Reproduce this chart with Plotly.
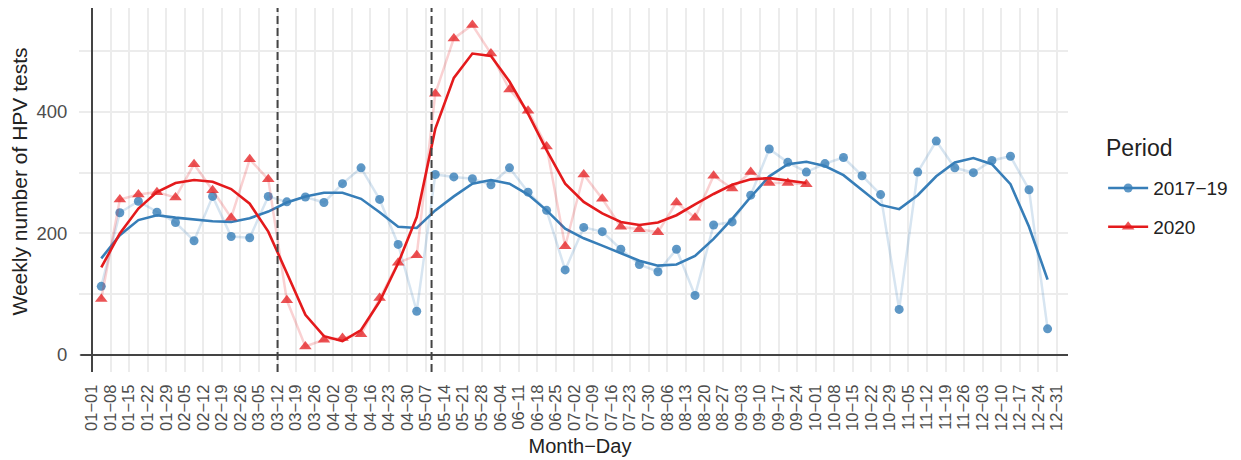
import plotly.graph_objects as go

# ---- data ----
week_labels = ["01-01","01-08","01-15","01-22","01-29","02-05","02-12","02-19","02-26","03-05",
               "03-12","03-19","03-26","04-02","04-09","04-16","04-23","04-30","05-07","05-14",
               "05-21","05-28","06-04","06-11","06-18","06-25","07-02","07-09","07-16","07-23",
               "07-30","08-06","08-13","08-20","08-27","09-03","09-10","09-17","09-24","10-01",
               "10-08","10-15","10-22","10-29","11-05","11-12","11-19","11-26","12-03","12-10",
               "12-17","12-24","12-31"]
tick_text = [s.replace("-", "\u2212") for s in week_labels]

tests_2017_19 = [113, 234, 253, 235, 218, 188, 261, 195, 193, 261,
                 252, 260, 251, 282, 308, 256, 182, 72, 297, 293,
                 290, 280, 308, 268, 238, 140, 210, 203, 174, 149,
                 137, 174, 98, 214, 219, 263, 339, 317, 301, 315,
                 325, 295, 264, 75, 301, 352, 308, 300, 320, 327,
                 272, 43]
smooth_2017_19 = [159, 197, 222, 230, 226, 223, 220, 219, 225, 236,
                  251, 261, 267, 267, 257, 235, 211, 209, 238, 261,
                  282, 288, 282, 264, 238, 208, 192, 180, 167, 155,
                  147, 149, 163, 191, 224, 260, 294, 314, 318, 311,
                  296, 272, 247, 240, 263, 294, 317, 324, 314, 281,
                  211, 124]

tests_2020 = [92, 256, 264, 268, 259, 314, 271, 226, 322, 289,
              90, 14, 25, 28, 34, 94, 152, 164, 430, 521,
              543, 496, 437, 402, 343, 179, 297, 257, 211, 207,
              202, 251, 226, 295, 274, 301, 283, 283, 281]
smooth_2020 = [144, 200, 241, 268, 283, 288, 285, 273, 249, 203,
               135, 66, 31, 23, 41, 88, 151, 227, 372, 456,
               496, 492, 450, 397, 337, 282, 252, 233, 219, 214,
               218, 230, 248, 265, 280, 289, 291, 287, 283]

event_weeks = [10.0, 18.3]   # dashed reference lines (in weeks from 01-01)

periods = ["2017\u221219", "2020"]
colors = {"2017\u221219": "#377EB8", "2020": "#E41A1C"}
faint = {"2017\u221219": "rgba(55,126,184,0.2)", "2020": "rgba(228,26,28,0.2)"}
pts = {"2017\u221219": "rgba(55,126,184,0.8)", "2020": "rgba(228,26,28,0.75)"}
symbols = {"2017\u221219": "circle", "2020": "triangle-up"}
msize = {"2017\u221219": 9, "2020": 11}

series = {"2017\u221219": (tests_2017_19, smooth_2017_19), "2020": (tests_2020, smooth_2020)}

fig = go.Figure()
for p in periods:
    vals, sm = series[p]
    xs = [i + 0.5 for i in range(len(vals))]
    fig.add_trace(go.Scatter(x=xs, y=vals, mode="lines+markers",
                             line=dict(color=faint[p], width=2.5),
                             marker=dict(color=pts[p], size=msize[p], symbol=symbols[p]),
                             showlegend=False, hoverinfo="skip"))
    fig.add_trace(go.Scatter(x=xs, y=sm, mode="lines",
                             line=dict(color=colors[p], width=2.6),
                             showlegend=False))
for k, p in enumerate(periods):
    fig.add_trace(go.Scatter(x=[None], y=[None], mode="lines+markers", name=p,
                             legendgroup=p,
                             line=dict(color=colors[p], width=2.6),
                             marker=dict(color=pts[p], size=msize[p], symbol=symbols[p])))

for xv in event_weeks:
    fig.add_shape(type="line", xref="x", yref="paper", x0=xv, x1=xv, y0=-0.049, y1=1,
                  line=dict(color="#444444", width=2, dash="8px,4px"), layer="above")

# axis lines
fig.add_shape(type="line", xref="paper", yref="paper", x0=0, x1=0, y0=-0.049, y1=1,
              line=dict(color="#444444", width=2))
fig.add_shape(type="line", xref="paper", yref="paper", x0=-0.012, x1=1, y0=0, y1=0,
              line=dict(color="#444444", width=2))

# legend title as annotation
fig.add_annotation(text="Period", xref="paper", yref="paper", x=1.037, y=0.5965,
                   xanchor="left", yanchor="middle", showarrow=False,
                   font=dict(size=23, color="#222222"))

grid = "#ececec"
fig.update_layout(
    width=1233, height=452,
    margin=dict(l=84, r=173, t=0, b=105, autoexpand=False),
    paper_bgcolor="white", plot_bgcolor="white",
    font=dict(family="Liberation Sans, Arial, sans-serif", color="#4d4d4d"),
    xaxis=dict(range=[0, 52.6], tickmode="array", tickvals=list(range(len(week_labels))),
               ticktext=tick_text, tickangle=-90, tickfont=dict(size=16.5, color="#4d4d4d"),
               showgrid=True, gridcolor=grid, gridwidth=2, zeroline=False, automargin=False,
               ticks="outside", ticklen=16, tickcolor=grid, tickwidth=2, ticklabelstandoff=6,
               title=dict(text="Month\u2212Day", font=dict(size=20, color="#222222"), standoff=9)),
    yaxis=dict(range=[0, 571], tickmode="array", tickvals=[0, 100, 200, 300, 400, 500],
               ticktext=["0", "", "200", "", "400", ""], tickfont=dict(size=18.5, color="#4d4d4d"),
               showgrid=True, gridcolor=grid, gridwidth=2, zeroline=False, automargin=False,
               ticks="outside", ticklen=12, tickcolor=grid, tickwidth=2, ticklabelstandoff=8,
               title=dict(text="Weekly number of HPV tests", font=dict(size=21, color="#222222"), standoff=6)),
    legend=dict(font=dict(size=19, color="#222222"), x=1.036, xanchor="left",
                y=0.5355, yanchor="top", tracegroupgap=11, itemwidth=40,
                bgcolor="rgba(0,0,0,0)"),
)

fig.write_html("out.html")
